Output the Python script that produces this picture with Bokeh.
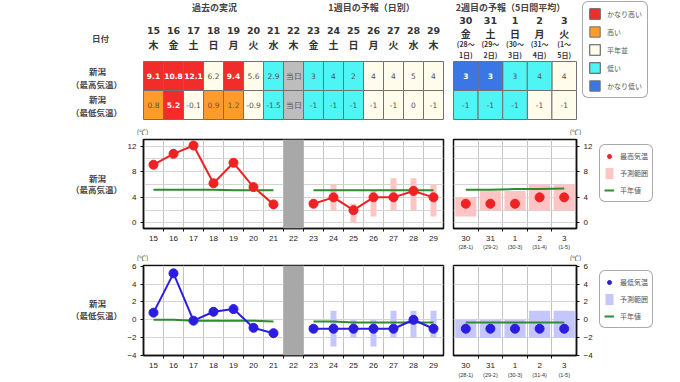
from bokeh.plotting import figure
from bokeh.models import (Range1d, FixedTicker, Legend, LegendItem, BoxAnnotation)
from bokeh.layouts import row, column
from bokeh.embed import file_html
from bokeh.resources import INLINE
from bokeh.core.properties import value

JP = "Noto Sans CJK JP"
NUM = "DejaVu Sans"
AX = "Liberation Sans"

# ---------------- data ----------------
days_w1 = [15, 16, 17, 18, 19, 20, 21, 22, 23, 24, 25, 26, 27, 28, 29]
weekdays_w1 = ["木", "金", "土", "日", "月", "火", "水", "木", "金", "土", "日", "月", "火", "水", "木"]
days_w2 = ["30", "31", "1", "2", "3"]
weekdays_w2 = ["金", "土", "日", "月", "火"]
period_w2_a = ["(28～", "(29～", "(30～", "(31～", "(1～"]
period_w2_b = ["1日)", "2日)", "3日)", "4日)", "5日)"]
period_w2_short = ["(28-1)", "(29-2)", "(30-3)", "(31-4)", "(1-5)"]

max_text_w1 = ["9.1", "10.8", "12.1", "6.2", "9.4", "5.6", "2.9", "当日", "3", "4", "2", "4", "4", "5", "4"]
max_class_w1 = ["vh", "vh", "vh", "n", "vh", "n", "l", "today", "l", "l", "l", "n", "n", "n", "n"]
min_text_w1 = ["0.8", "5.2", "-0.1", "0.9", "1.2", "-0.9", "-1.5", "当日", "-1", "-1", "-1", "-1", "-1", "0", "-1"]
min_class_w1 = ["h", "vh", "n", "h", "h", "n", "l", "today", "l", "l", "l", "n", "n", "n", "n"]
max_text_w2 = ["3", "3", "3", "4", "4"]
max_class_w2 = ["vl", "vl", "l", "l", "n"]
min_text_w2 = ["-1", "-1", "-1", "-1", "-1"]
min_class_w2 = ["l", "l", "l", "n", "n"]

obs_days = [15, 16, 17, 18, 19, 20, 21]
obs_max = [9.1, 10.8, 12.1, 6.2, 9.4, 5.6, 2.9]
obs_min = [0.8, 5.2, -0.1, 0.9, 1.2, -0.9, -1.5]
fc_days = [23, 24, 25, 26, 27, 28, 29]
fc_max = [3, 4, 2, 4, 4, 5, 4]
fc_min = [-1, -1, -1, -1, -1, 0, -1]
rng_days = [24, 25, 26, 27, 28, 29]
fc_max_lo = [2, 0, 1, 2, 2, 1]
fc_max_hi = [6, 3, 5, 7, 7, 6]
fc_min_lo = [-3, -2, -3, -2, -2, -2]
fc_min_hi = [1, 0, 0, 1, 1, 1]
w2_idx = [0, 1, 2, 3, 4]
w2_max = [3, 3, 3, 4, 4]
w2_max_lo = [1, 2, 2, 2, 2]
w2_max_hi = [4, 5, 5, 6, 6]
w2_min = [-1, -1, -1, -1, -1]
w2_min_lo = [-2, -2, -2, -2, -2]
w2_min_hi = [0, 0, 0, 1, 1]

norm_max_obs = [5.2, 5.2, 5.2, 5.2, 5.1, 5.1, 5.1]
norm_max_fc = [5.1, 5.1, 5.1, 5.1, 5.1, 5.1, 5.1]
norm_max_w2 = [5.2, 5.2, 5.3, 5.3, 5.4]
norm_min_obs = [0.0, 0.0, -0.1, -0.1, -0.1, -0.1, -0.2]
norm_min_fc = [-0.2, -0.2, -0.3, -0.3, -0.3, -0.3, -0.3]
norm_min_w2 = [-0.3, -0.3, -0.3, -0.3, -0.3]

class_order = ["vh", "h", "n", "l", "vl"]
class_label = {"vh": "かなり高い", "h": "高い", "n": "平年並", "l": "低い", "vl": "かなり低い"}
class_color = {"vh": "#f22b2b", "h": "#ff9b2b", "n": "#fffcec", "l": "#4ff4f4",
               "vl": "#3a76e6", "today": "#bdbdbd"}
white_text = {"vh", "vl"}

RED = "#ee2222"
BLUE = "#2b1de0"
GREEN = "#2e8b2e"
PINK = "#ffc4c4"
LAV = "#c6c6ff"
TXT = "#444444"

# ---------------- geometry (page pixels) ----------------
TW = 680
D_CX0, D_W = 153.0, 20.0          # centre of first daily cell, cell width
W2_L, W2_W = 453.0, 123.0         # week-2 block left edge and width
W2_CW = W2_W / 5
LAB_W = 124                       # width of the left label strip of each chart row
FRAME_L = 143                     # left edge of the daily chart frame
UNIT_X = (142, 575)               # x of the two (℃) labels


def w2_range():
    return Range1d(-W2_L / W2_CW - 0.5, (TW - W2_L) / W2_CW - 0.5)


def plain_fig(width, height, xr, yr):
    f = figure(width=width, height=height, x_range=xr, y_range=yr, min_border=0,
               x_axis_location=None, y_axis_location=None,
               output_backend="svg", toolbar_location=None)
    f.outline_line_color = None
    f.grid.visible = False
    return f


def texts(f, xs, ys, ts, size, font=JP, bold=True, color=TXT, rng="default", align="center"):
    f.text(x=xs, y=ys, text=ts, x_range_name=rng, text_align=align, text_baseline="middle",
           text_font=value(font), text_font_size=size,
           text_font_style="bold" if bold else "normal", text_color=color)


has_radius = "border_radius" in Legend.properties()


def make_legend(items, loc, gh, spacing, padding, gw, standoff):
    lg = Legend(items=items, location=loc, glyph_height=gh, glyph_width=gw,
                label_height=gh, spacing=spacing, padding=padding, margin=0,
                label_standoff=standoff, label_text_font=JP, label_text_font_size="7px",
                label_text_color="#555555", border_line_color="#555555",
                border_line_width=1, background_fill_color="white",
                background_fill_alpha=1)
    if has_radius:
        lg.border_radius = 6
    return lg


# ---------------- table figure ----------------
TH = 135
ROW_H = 29.0
ROW_Y = {"max": 61 + ROW_H / 2, "min": 61 + ROW_H * 1.5}

tp = plain_fig(TW, TH, Range1d(-D_CX0 / D_W, (TW - D_CX0) / D_W), Range1d(TH, 0))
tp.extra_x_ranges = {"w2": w2_range(), "px": Range1d(0, TW)}

legend_renderers = {c: [] for c in class_order}
for rowkey, classes, vals, rng, xs in [
        ("max", max_class_w1, max_text_w1, "default", list(range(15))),
        ("min", min_class_w1, min_text_w1, "default", list(range(15))),
        ("max", max_class_w2, max_text_w2, "w2", w2_idx),
        ("min", min_class_w2, min_text_w2, "w2", w2_idx)]:
    for c in class_order + ["today"]:
        sel = [x for x, k in zip(xs, classes) if k == c]
        if not sel:
            continue
        r = tp.rect(x=sel, y=[ROW_Y[rowkey]] * len(sel), width=1, height=ROW_H,
                    fill_color=class_color[c], line_color="#707070", line_width=1,
                    x_range_name=rng)
        if c in legend_renderers:
            legend_renderers[c].append(r)
    for bold in (True, False):
        sx = [x for x, k in zip(xs, classes) if (k in white_text) == bold]
        st = [t for t, k in zip(vals, classes) if (k in white_text) == bold]
        if sx:
            texts(tp, sx, [ROW_Y[rowkey]] * len(sx), st, "7.5px", font=NUM, bold=bold,
                  color="white" if bold else "#555555", rng=rng)

texts(tp, list(range(15)), [30] * 15, [str(d) for d in days_w1], "9.5px", font=NUM,
      color="#333333")
texts(tp, list(range(15)), [44] * 15, weekdays_w1, "10px", color="#333333")
texts(tp, w2_idx, [20] * 5, days_w2, "9.5px", font=NUM, color="#333333", rng="w2")
texts(tp, w2_idx, [33] * 5, weekdays_w2, "10px", color="#333333", rng="w2")
texts(tp, w2_idx, [43.5] * 5, period_w2_a, "7px", color="#333333", rng="w2")
texts(tp, w2_idx, [54] * 5, period_w2_b, "7px", color="#333333", rng="w2")
texts(tp, [214, 371, 510], [7, 7, 7],
      ["過去の実況", "1週目の予報（日別）", "2週目の予報（5日間平均）"], "9px", rng="px")
texts(tp, [100, 97, 96, 97, 96], [37, 70, 83, 98, 111],
      ["日付", "新潟", "（最高気温）", "新潟", "（最低気温）"], "8.5px", rng="px")
# (℃) labels above the first chart
texts(tp, list(UNIT_X), [131, 131], ["(℃)", "(℃)"], "7px", bold=False, rng="px")

tleg = make_legend([LegendItem(label=class_label[c], renderers=legend_renderers[c])
                    for c in class_order], (582, 37), 13, 5, 5, 13, 6)
tp.add_layout(tleg)


# ---------------- charts ----------------
def base_chart(width, height, xr, yr, yloc, borders, yticks, ygrid, xticks, xminor, xover=None):
    p = figure(width=width, height=height, x_range=xr, y_range=yr, y_axis_location=yloc,
               min_border_left=borders[0], min_border_right=borders[1],
               min_border_top=borders[2], min_border_bottom=borders[3],
               output_backend="svg", toolbar_location=None)
    p.outline_line_color = "#111111"
    p.outline_line_width = 1.5
    xa = p.xaxis[0]
    ya = p.yaxis[0]
    xa.ticker = FixedTicker(ticks=xticks, minor_ticks=xminor)
    if xover:
        xa.major_label_overrides = xover
    xa.major_tick_out = 0
    xa.major_tick_in = 0
    xa.minor_tick_out = 3
    xa.minor_tick_in = 0
    xa.major_label_standoff = 4
    ya.ticker = FixedTicker(ticks=yticks)
    ya.major_tick_out = 3
    ya.major_tick_in = 0
    ya.minor_tick_out = 0
    ya.minor_tick_in = 0
    ya.major_label_standoff = 4
    for a in (xa, ya):
        a.axis_line_color = "#111111"
        a.axis_line_width = 1.5
        a.major_tick_line_color = "#111111"
        a.minor_tick_line_color = "#111111"
        a.major_label_text_font = AX
        a.major_label_text_font_size = "8px"
        a.major_label_text_color = "#222222"
    p.xgrid.ticker = FixedTicker(ticks=xminor)
    p.ygrid.ticker = FixedTicker(ticks=ygrid)
    p.xgrid.grid_line_color = "#c4c4c4"
    p.ygrid.grid_line_color = "#d4d4d4"
    return p


def chart_row(height, yr, yticks, ygrid, top, bottom, obs, fc, lo, hi, w2v, w2lo, w2hi,
              nobs, nfc, nw2, color, rcolor, row_labels, label_ys, leg_y, leg_name):
    lab = plain_fig(LAB_W, height, Range1d(0, LAB_W), Range1d(height, 0))
    texts(lab, [97, 96], label_ys, row_labels, "8.5px")

    minor1 = [d + 0.5 for d in days_w1[:-1]]
    pl_w = (FRAME_L - LAB_W) + 300 + 3
    pl = base_chart(pl_w, height, Range1d(14.5, 29.5), Range1d(*yr), "left",
                    (FRAME_L - LAB_W, 3, top, bottom), yticks, ygrid, days_w1, minor1)
    pl.add_layout(BoxAnnotation(left=21.5, right=22.5, fill_color="#a8a8a8", fill_alpha=1,
                                line_color=None))
    pl.vbar(x=rng_days, bottom=lo, top=hi, width=0.3, fill_color=rcolor, line_color=None)
    pl.line(obs_days, nobs, line_color=GREEN, line_width=2)
    pl.line(fc_days, nfc, line_color=GREEN, line_width=2)
    for xs, ys in ((obs_days, obs), (fc_days, fc)):
        pl.line(xs, ys, line_color=color, line_width=2)
        pl.scatter(xs, ys, size=9, fill_color=color, line_color=color)

    minor2 = [0.5, 1.5, 2.5, 3.5]
    left2 = W2_L - (LAB_W + pl_w)
    pr_w = left2 + W2_W + 22
    pr = base_chart(int(pr_w), height, Range1d(-0.5, 4.5), Range1d(*yr), "right",
                    (int(left2), 22, top, bottom), yticks, ygrid, w2_idx, minor2,
                    {i: d for i, d in enumerate(days_w2)})
    pr.vbar(x=w2_idx, bottom=w2lo, top=w2hi, width=0.86, fill_color=rcolor, line_color=None)
    pr.line(w2_idx, nw2, line_color=GREEN, line_width=2)
    pr.scatter(w2_idx, w2v, size=9, fill_color=color, line_color=color)

    pg_w = TW - LAB_W - pl_w - int(pr_w)
    pg = plain_fig(pg_w, height, Range1d(0, 1), Range1d(0, 1))
    d1 = pg.scatter(x=[5], y=[5], size=5, fill_color=color, line_color=color)
    d2 = pg.vbar(x=[5], bottom=[5], top=[6], width=0.1, fill_color=rcolor, line_color=None)
    d3 = pg.line(x=[5, 6], y=[5, 5], line_color=GREEN, line_width=2)
    lg = make_legend([LegendItem(label=leg_name, renderers=[d1]),
                      LegendItem(label="予測範囲", renderers=[d2]),
                      LegendItem(label="平年値", renderers=[d3])],
                     (1, leg_y), 14, 3, 4, 10, 6)
    pg.add_layout(lg)
    return row(lab, pl, pr, pg)


def strip(height, sub_y, unit_y=None):
    s = plain_fig(TW, height, Range1d(0, TW), Range1d(height, 0))
    s.extra_x_ranges = {"w2": w2_range()}
    texts(s, w2_idx, [sub_y] * 5, period_w2_short, "5.5px", font=AX, bold=False,
          color="#333333", rng="w2")
    if unit_y is not None:
        texts(s, list(UNIT_X), [unit_y, unit_y], ["(℃)", "(℃)"], "7px", bold=False)
    return s


row1 = chart_row(108, (-0.87, 13.04), [0, 4, 8, 12], [0, 2, 4, 6, 8, 10, 12], 4, 15,
                 obs_max, fc_max, fc_max_lo, fc_max_hi, w2_max, w2_max_lo, w2_max_hi,
                 norm_max_obs, norm_max_fc, norm_max_w2, RED, PINK,
                 ["新潟", "（最高気温）"], [47, 60], 26, "最高気温")
strip1 = strip(18, 3, 14)
row2 = chart_row(109, (-4, 6.08), [-4, -2, 0, 2, 4, 6], [-4, -2, 0, 2, 4, 6], 4, 15,
                 obs_min, fc_min, fc_min_lo, fc_min_hi, w2_min, w2_min_lo, w2_min_hi,
                 norm_min_obs, norm_min_fc, norm_min_w2, BLUE, LAV,
                 ["新潟", "（最低気温）"], [46, 60], 27, "最低気温")
strip2 = strip(10, 2.5)

layout = column(tp, row1, strip1, row2, strip2)

with open("out.html", "w") as f:
    f.write(file_html(layout, INLINE))
